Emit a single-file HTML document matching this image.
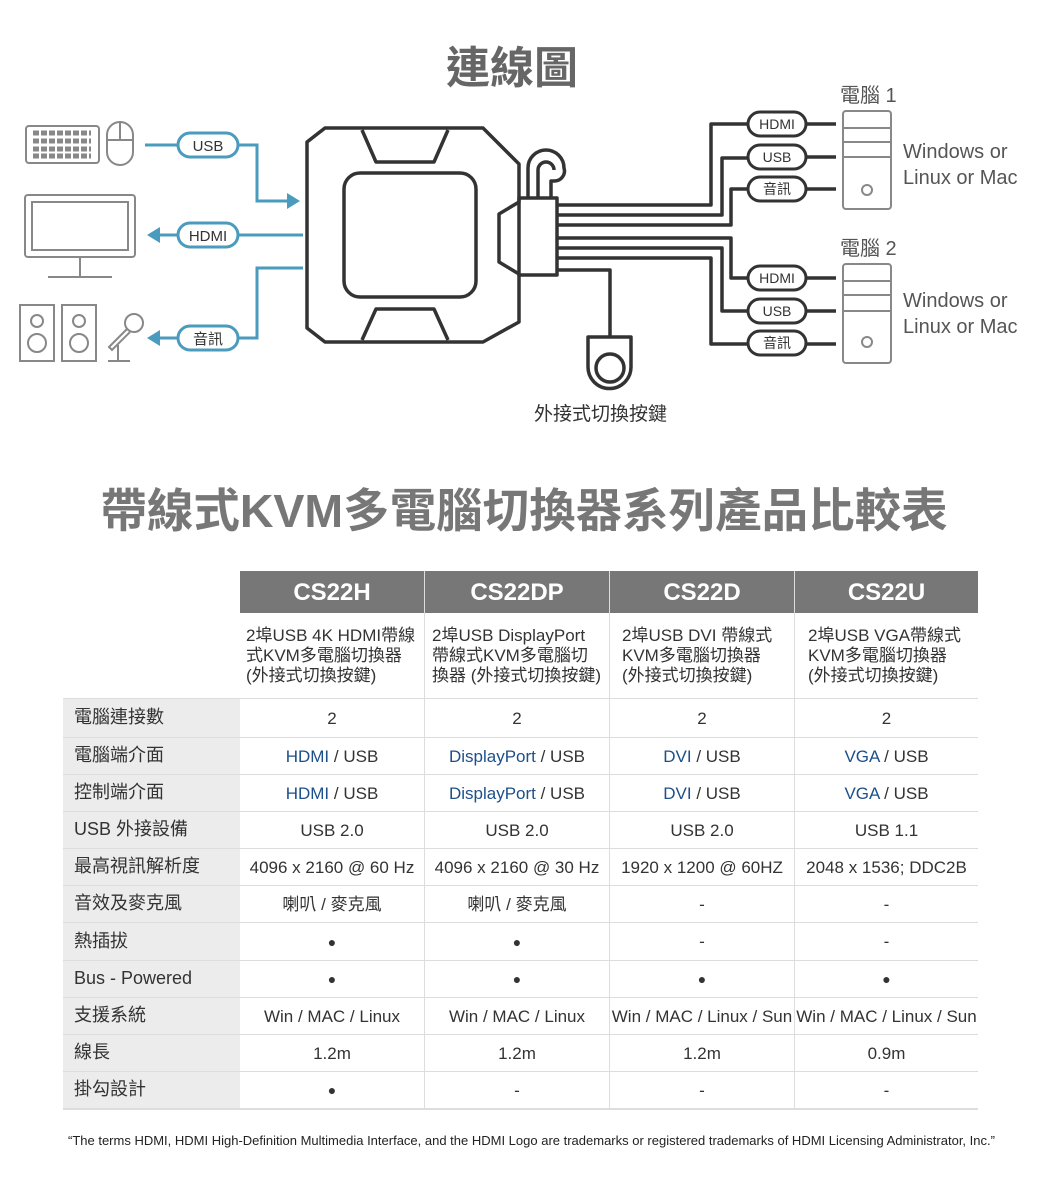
<!DOCTYPE html>
<html><head><meta charset="utf-8"><style>
body{margin:0;width:1040px;height:1187px;background:#fff;position:relative;overflow:hidden;font-family:"Liberation Sans","Noto Sans CJK TC",sans-serif;color:#333}
.a{position:absolute}
.t1{left:0;width:1024px;top:32px;text-align:center;font-size:44px;font-weight:bold;color:#666}
.t2{left:0;width:1048px;top:474px;text-align:center;font-size:46.5px;font-weight:bold;color:#777}
.hd{top:571px;height:42px;background:#777;color:#fff;font-size:24px;font-weight:bold;text-align:center;line-height:44px}
.cell{position:absolute;text-align:center;font-size:17px;color:#333}
.lab{position:absolute;left:63px;width:177px;background:#ececec;font-size:18px;color:#333;padding-left:11px;box-sizing:border-box}
.ln{position:absolute;left:63px;width:915px;height:1px;background:#ddd}
.vl{position:absolute;width:1px;background:#ddd;top:613px;height:495px}
.b{color:#1d4f8a}
</style></head><body>
<div class="a t1">連線圖</div>
<svg class="a" style="left:0;top:0" width="1040" height="440" viewBox="0 0 1040 440">
<g fill="none" stroke="#888" stroke-width="2">
<rect x="26" y="126" width="73" height="37" rx="3"/>
<path d="M33 133h58M33 141h58M33 149h58M33 156h58" stroke-width="5" stroke-dasharray="6 2"/>
<rect x="107" y="122" width="26" height="43" rx="13"/><path d="M107 140h26M120 122v18"/>
<rect x="25" y="195" width="110" height="62" rx="3"/><rect x="32" y="202" width="96" height="48"/>
<path d="M80 257v20M48 277h64"/>
<rect x="20" y="305" width="34" height="56"/><rect x="62" y="305" width="34" height="56"/>
<circle cx="37" cy="321" r="6"/><circle cx="37" cy="343" r="9"/><circle cx="79" cy="321" r="6"/><circle cx="79" cy="343" r="9"/>
<circle cx="134" cy="323" r="9"/><path d="M127 329l-18 18 3 3 18-18M118 345v16M108 361h22"/>
</g>
<g fill="none" stroke="#4a9bbd" stroke-width="3">
<path d="M145 145h33M238 145h19v56h30"/>
<path d="M303 235h-65M178 235h-20"/>
<path d="M303 268h-46v70h-19M178 338h-20"/>
</g>
<g fill="#4a9bbd"><path d="M300 201l-13-8v16z"/><path d="M147 235l13-8v16z"/><path d="M147 338l13-8v16z"/></g>
<g fill="#fff" stroke="#4a9bbd" stroke-width="3">
<rect x="178" y="133" width="60" height="24" rx="12"/><rect x="178" y="223" width="60" height="24" rx="12"/><rect x="178" y="326" width="60" height="24" rx="12"/>
</g>
<g font-size="15" fill="#333" text-anchor="middle"><text x="208" y="151">USB</text><text x="208" y="241">HDMI</text><text x="208" y="344">音訊</text></g>
<g fill="none" stroke="#333" stroke-width="3.5" stroke-linejoin="round">
<path d="M325 128h158l36 36v38l-20 12v48l20 12v48l-36 20h-158l-18-14v-186z"/>
<path d="M362 130l14 32h58l14-32"/><path d="M362 340l14-31h58l14 31"/>
<rect x="344" y="173" width="132" height="124" rx="16"/>
<rect x="519" y="198" width="38" height="77"/>
<path d="M528 198v-30a18 18 0 0 1 36 0 10 10 0 0 1-10 13h-3v17M538 198v-28a8 8 0 0 1 16 0"/>
<path d="M557 205h154v-81h37M557 215h165v-57h26M557 225h174v-36h17M557 238h174v40h17M557 248h165v63h26M557 258h154v86h37"/>
<path d="M557 270h53v67"/>
<path d="M588 337h43v30a21 21 0 0 1-43 0z"/><circle cx="610" cy="368" r="14"/>
<path d="M806 124h30M806 157h30M806 189h30M806 278h30M806 311h30M806 344h30"/>
</g>
<g fill="#fff" stroke="#333" stroke-width="3">
<rect x="748" y="112" width="58" height="24" rx="12"/><rect x="748" y="145" width="58" height="24" rx="12"/><rect x="748" y="177" width="58" height="24" rx="12"/>
<rect x="748" y="266" width="58" height="24" rx="12"/><rect x="748" y="299" width="58" height="24" rx="12"/><rect x="748" y="331" width="58" height="24" rx="12"/>
</g>
<g font-size="14" fill="#333" text-anchor="middle"><text x="777" y="129">HDMI</text><text x="777" y="162">USB</text><text x="777" y="194">音訊</text><text x="777" y="283">HDMI</text><text x="777" y="316">USB</text><text x="777" y="348">音訊</text></g>
<g fill="none" stroke="#888" stroke-width="2">
<rect x="843" y="111" width="48" height="98" rx="3"/><path d="M843 128h48M843 142h48M843 157h48"/><circle cx="867" cy="190" r="5"/>
<rect x="843" y="264" width="48" height="99" rx="3"/><path d="M843 281h48M843 295h48M843 311h48"/><circle cx="867" cy="342" r="5"/>
</g>
<g font-size="20" fill="#555"><text x="840" y="102">電腦 1</text><text x="840" y="255">電腦 2</text>
<text x="903" y="158">Windows or</text><text x="903" y="184">Linux or Mac</text>
<text x="903" y="307">Windows or</text><text x="903" y="333">Linux or Mac</text>
<text x="534" y="420" font-size="19" fill="#333">外接式切換按鍵</text></g>
</svg>
<div class="a t2">帶線式KVM多電腦切換器系列產品比較表</div>

<div class="a hd" style="left:240px;width:184px">CS22H</div>
<div class="a hd" style="left:425px;width:184px">CS22DP</div>
<div class="a hd" style="left:610px;width:184px">CS22D</div>
<div class="a hd" style="left:795px;width:183px">CS22U</div>
<div class="vl" style="left:424px;top:571px;height:537px;background:#ddd"></div>
<div class="vl" style="left:609px;top:571px;height:537px"></div>
<div class="vl" style="left:794px;top:571px;height:537px"></div>

<div class="cell" style="left:246px;top:626px;width:178px;text-align:left;line-height:20px">2埠USB 4K HDMI帶線式KVM多電腦切換器 (外接式切換按鍵)</div>
<div class="cell" style="left:432px;top:626px;width:176px;text-align:left;line-height:20px">2埠USB DisplayPort<br>帶線式KVM多電腦切<br>換器 (外接式切換按鍵)</div>
<div class="cell" style="left:622px;top:626px;width:160px;text-align:left;line-height:20px">2埠USB DVI 帶線式KVM多電腦切換器 (外接式切換按鍵)</div>
<div class="cell" style="left:808px;top:626px;width:160px;text-align:left;line-height:20px">2埠USB VGA帶線式KVM多電腦切換器 (外接式切換按鍵)</div>

<div id="rows"></div>
<script>
var ys=[698,737,774,811,848,885,922,960,997,1034,1071,1108];
var labels=["電腦連接數","電腦端介面","控制端介面","USB 外接設備","最高視訊解析度","音效及麥克風","熱插拔","Bus - Powered","支援系統","線長","掛勾設計"];
var d=[["2","2","2","2"],
['<span class=b>HDMI</span> / USB','<span class=b>DisplayPort</span> / USB','<span class=b>DVI</span> / USB','<span class=b>VGA</span> / USB'],
['<span class=b>HDMI</span> / USB','<span class=b>DisplayPort</span> / USB','<span class=b>DVI</span> / USB','<span class=b>VGA</span> / USB'],
["USB 2.0","USB 2.0","USB 2.0","USB 1.1"],
["4096 x 2160 @ 60 Hz","4096 x 2160 @ 30 Hz","1920 x 1200 @ 60HZ","2048 x 1536; DDC2B"],
["喇叭 / 麥克風","喇叭 / 麥克風","-","-"],
["●","●","-","-"],["●","●","●","●"],
["Win / MAC / Linux","Win / MAC / Linux","Win / MAC / Linux / Sun","Win / MAC / Linux / Sun"],
["1.2m","1.2m","1.2m","0.9m"],["●","-","-","-"]];
var xs=[[240,184],[425,184],[610,184],[795,183]];
var h="";
for(var i=0;i<11;i++){var y=ys[i],hh=ys[i+1]-y;
h+='<div class="lab" style="top:'+y+'px;height:'+hh+'px;line-height:'+hh+'px">'+labels[i]+'</div>';
h+='<div class="ln" style="top:'+y+'px"></div>';
for(var j=0;j<4;j++){var s=d[i][j]=="●"?'font-size:14px':'';
h+='<div class="cell" style="left:'+xs[j][0]+'px;width:'+xs[j][1]+'px;top:'+y+'px;height:'+hh+'px;line-height:'+(hh+2)+'px;'+s+'">'+d[i][j]+'</div>';}}
h+='<div class="ln" style="top:1108px;height:2px"></div>';
document.getElementById("rows").innerHTML=h;
</script>
<div class="a" style="left:68px;top:1133px;font-size:13px;color:#222;white-space:nowrap">“The terms HDMI, HDMI High-Definition Multimedia Interface, and the HDMI Logo are trademarks or registered trademarks of HDMI Licensing Administrator, Inc.”</div>
</body></html>
